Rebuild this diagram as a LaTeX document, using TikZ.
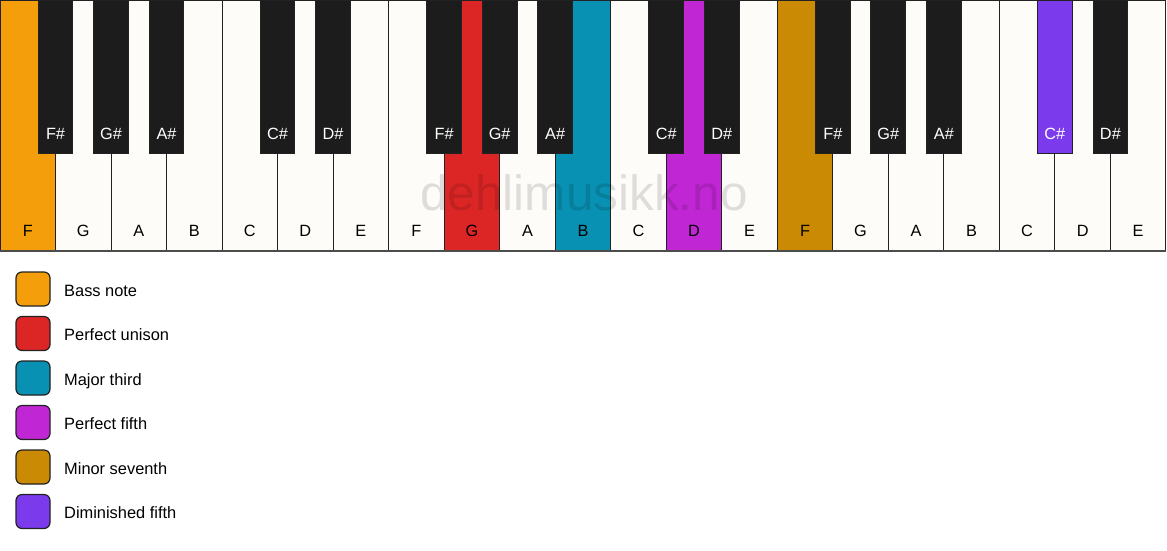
\documentclass[tikz,border=0pt]{standalone}
\usepackage{fontspec}
\setmainfont{Liberation Sans}
\definecolor{kw}{HTML}{FDFCF8}
\definecolor{bk}{HTML}{1C1C1C}
\definecolor{edge}{HTML}{222222}
\definecolor{bass}{HTML}{F59E0B}
\definecolor{unison}{HTML}{DC2626}
\definecolor{third}{HTML}{0891B2}
\definecolor{fifth}{HTML}{C026D3}
\definecolor{seventh}{HTML}{CA8A04}
\definecolor{dimfifth}{HTML}{7C3AED}
\def\W{55.52}
\tikzset{
  wkey/.style={draw=edge, line width=1pt, anchor=north west, minimum width=\W pt, minimum height=250pt, inner sep=0pt, outer sep=0pt},
  bkey/.style={draw=edge, line width=1pt, anchor=north, minimum width=34.7pt, minimum height=153pt, inner sep=0pt, outer sep=0pt},
  keytext/.style={font=\fontsize{16.3}{16.3}\selectfont, anchor=base, inner sep=0pt},
  legbox/.style={draw=edge, line width=1.2pt, rounded corners=6pt, minimum width=34pt, minimum height=34pt, inner sep=0pt},
  legtext/.style={font=\fontsize{16.4}{16.4}\selectfont, anchor=base west, inner sep=0pt},
  watermark/.style={font=\fontsize{49.5}{49.5}\selectfont, text=black, text opacity=0.12, anchor=base, inner sep=0pt}
}
\begin{document}
\begin{tikzpicture}[x=1pt,y=-1pt]
\useasboundingbox (0,0) rectangle (1167,550);
\fill[white] (0,0) rectangle (1167,550);
% white keys
\foreach \n/\c [count=\i from 0] in {F/bass,G/kw,A/kw,B/kw,C/kw,D/kw,E/kw,F/kw,G/unison,A/kw,B/third,C/kw,D/fifth,E/kw,F/seventh,G/kw,A/kw,B/kw,C/kw,D/kw,E/kw}{
  \node[wkey, fill=\c] (w\i) at ({\i*\W},0.5) {};
  \node[keytext, text=black] (wl\i) at ({(\i+0.5)*\W},236) {\n};
}
\draw[line width=2pt, color=black!70] (w0.south west) -- (w20.south east);
% black keys
\foreach \b/\n/\c/\t in {1/F\#/bk/white,2/G\#/bk/white,3/A\#/bk/white,5/C\#/bk/white,6/D\#/bk/white,8/F\#/bk/white,9/G\#/bk/white,10/A\#/bk/white,12/C\#/bk/white,13/D\#/bk/white,15/F\#/bk/white,16/G\#/bk/white,17/A\#/bk/white,19/C\#/dimfifth/white,20/D\#/bk/white}{
  \node[bkey, fill=\c] (b\b) at ({\b*\W},0.5) {};
  \node[keytext, text=\t] (bl\b) at ({\b*\W},139) {\n};
}
% watermark
\node[watermark] (wm) at (584,210) {dehlimusikk.no};
% legend
\foreach \c/\t [count=\i from 0] in {bass/Bass note,unison/Perfect unison,third/Major third,fifth/Perfect fifth,seventh/Minor seventh,dimfifth/Diminished fifth}{
  \node[legbox, fill=\c] (lb\i) at (33,{289+44.5*\i}) {};
  \node[legtext] (lt\i) at (64,{296+44.5*\i}) {\t};
}
\end{tikzpicture}
\end{document}
